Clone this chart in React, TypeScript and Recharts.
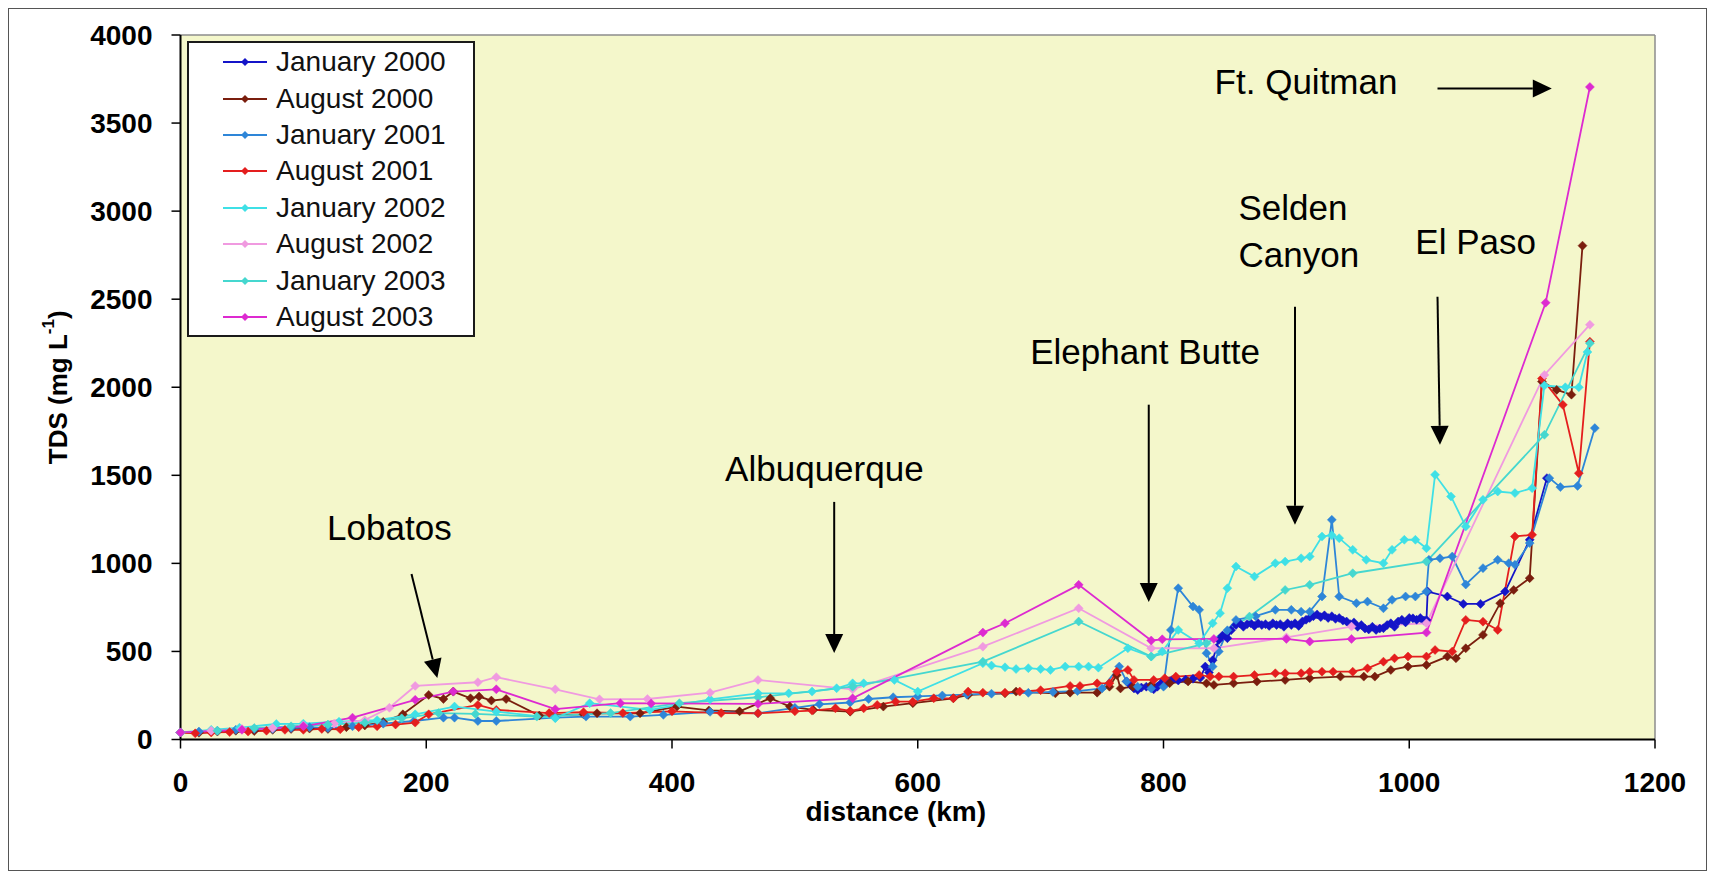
import { LineChart, Line, XAxis, YAxis, CartesianGrid, Legend, ReferenceLine, ReferenceDot } from "recharts"

const FONT = '"Liberation Sans", Arial, Helvetica, sans-serif'

const seriesNames = [
  "January 2000",
  "August 2000",
  "January 2001",
  "August 2001",
  "January 2002",
  "August 2002",
  "January 2003",
  "August 2003",
]
const seriesColors = ["#1414c8", "#7a1e0e", "#2e86d8", "#e41e1e", "#3fe0e6", "#f09ae0", "#45d7cf", "#dd2ad0"]

const xTicks = [0, 200, 400, 600, 800, 1000, 1200]
const yTicks = [0, 500, 1000, 1500, 2000, 2500, 3000, 3500, 4000]

// [distance (km), TDS (mg/L)]
const jan2000 = [
  [770, 330], [773, 310], [776, 290], [779, 281], [782, 295], [786, 300], [789, 300], [792, 285],
  [795, 300], [798, 319], [801, 310], [804, 330], [807, 338], [812, 335], [818, 340], [824, 345],
  [830, 350], [834, 414], [837, 380], [840, 450], [843, 520], [845, 565], [848, 590], [852, 575],
  [855, 620], [859, 650], [862, 660], [865, 640], [868, 655], [871, 660], [874, 645], [877, 660],
  [880, 650], [883, 655], [886, 645], [889, 660], [892, 650], [895, 655], [898, 640], [901, 660],
  [904, 650], [907, 660], [910, 645], [913, 670], [916, 680], [919, 690], [922, 700], [925, 710],
  [928, 695], [931, 705], [934, 690], [937, 700], [940, 685], [943, 690], [946, 675], [949, 670],
  [952, 655], [955, 665], [958, 640], [961, 650], [964, 630], [967, 625], [970, 640], [973, 622],
  [976, 630], [979, 632], [982, 650], [985, 660], [988, 640], [991, 670], [994, 680], [997, 665],
  [1000, 690], [1003, 688], [1006, 680], [1009, 690], [1012, 675], [1014, 679], [1015, 840],
  [1031, 812], [1044, 770], [1058, 770], [1078, 840], [1098, 1134], [1112, 1484],
]

const aug2000 = [
  [0, 40], [15, 38], [30, 45], [45, 50], [60, 48], [75, 55], [90, 60], [105, 62], [120, 60],
  [135, 70], [150, 80], [165, 100], [181, 143], [202, 253], [214, 230], [222, 272], [236, 234],
  [243, 244], [253, 221], [265, 230], [292, 136], [328, 143], [339, 149], [374, 149], [404, 187],
  [430, 165], [455, 160], [480, 234], [496, 187], [515, 168], [545, 158], [572, 187], [596, 206],
  [629, 234], [641, 253], [671, 262], [680, 272], [712, 262], [724, 266], [746, 266], [756, 300],
  [762, 366], [765, 290], [775, 300], [790, 310], [805, 320], [820, 330], [835, 319], [841, 310],
  [857, 319], [876, 329], [899, 338], [919, 348], [944, 357], [963, 357], [972, 357], [985, 395],
  [999, 414], [1014, 423], [1031, 471], [1038, 461], [1046, 518], [1060, 594], [1074, 774],
  [1085, 849], [1098, 916], [1108, 2032], [1120, 1985], [1132, 1958], [1141, 2804],
]

const jan2001 = [
  [0, 40], [15, 45], [30, 50], [45, 55], [60, 60], [75, 60], [90, 65], [105, 70], [120, 65],
  [140, 75], [165, 90], [190, 105], [214, 124], [223, 124], [242, 105], [257, 105], [305, 124],
  [330, 130], [366, 130], [393, 140], [431, 157], [470, 149], [500, 180], [520, 200], [545, 210],
  [560, 230], [580, 240], [600, 245], [620, 250], [640, 255], [660, 260], [690, 265], [710, 270],
  [730, 275], [750, 290], [764, 414], [770, 330], [779, 300], [790, 290], [800, 300], [806, 622],
  [812, 859], [824, 755], [829, 736], [835, 490], [840, 414], [845, 500], [852, 620], [859, 679],
  [875, 700], [891, 736], [904, 736], [912, 726], [919, 726], [929, 812], [937, 1247], [943, 812],
  [957, 774], [966, 783], [979, 745], [986, 793], [997, 812], [1005, 812], [1014, 840], [1016, 1020],
  [1025, 1029], [1035, 1039], [1046, 880], [1060, 973], [1072, 1020], [1081, 1001], [1086, 992],
  [1098, 1115], [1114, 1484], [1123, 1433], [1137, 1440], [1151, 1768],
]

const aug2001 = [
  [0, 40], [12, 35], [25, 40], [40, 42], [55, 45], [70, 50], [85, 55], [100, 55], [115, 60],
  [130, 58], [145, 70], [160, 75], [175, 85], [191, 96], [202, 143], [242, 196], [257, 168],
  [300, 150], [328, 155], [360, 150], [400, 160], [440, 150], [470, 149], [500, 160], [514, 164],
  [533, 177], [545, 162], [556, 177], [567, 196], [582, 215], [596, 215], [613, 234], [629, 234],
  [641, 272], [653, 266], [671, 266], [683, 272], [700, 280], [724, 304], [732, 304], [746, 319],
  [756, 320], [762, 385], [771, 395], [776, 338], [792, 338], [801, 348], [810, 357], [829, 366],
  [838, 357], [845, 357], [857, 357], [874, 366], [891, 376], [899, 376], [912, 376], [919, 385],
  [929, 385], [938, 385], [954, 385], [966, 404], [979, 442], [988, 461], [999, 471], [1014, 471],
  [1021, 508], [1035, 499], [1046, 679], [1060, 669], [1072, 622], [1086, 1153], [1100, 1162],
  [1108, 2050], [1125, 1900], [1138, 1512], [1147, 2259],
]

const jan2002 = [
  [0, 40], [25, 55], [48, 67], [78, 88], [100, 90], [129, 101], [160, 110], [191, 143], [223, 187],
  [257, 158], [305, 121], [333, 206], [382, 168], [431, 228], [470, 262], [495, 262], [514, 272],
  [534, 291], [547, 319], [556, 319], [581, 338], [600, 272], [653, 433], [660, 420], [671, 410],
  [680, 400], [690, 405], [700, 400], [708, 395], [720, 414], [731, 414], [739, 414], [747, 408],
  [771, 518], [790, 471], [799, 499], [812, 622], [829, 546], [840, 660], [846, 717], [852, 859],
  [859, 982], [874, 925], [891, 1001], [899, 1010], [912, 1029], [919, 1039], [929, 1152],
  [937, 1160], [943, 1143], [954, 1077], [965, 1020], [979, 1001], [986, 1077], [996, 1134],
  [1005, 1134], [1014, 1086], [1021, 1503], [1034, 1380], [1046, 1209], [1060, 1361], [1072, 1408],
  [1086, 1399], [1100, 1427], [1110, 2010], [1127, 2000], [1138, 2000], [1145, 2200],
]

const aug2002 = [
  [0, 40], [25, 50], [50, 60], [75, 65], [100, 80], [125, 90], [150, 110], [170, 180], [191, 304],
  [242, 325], [257, 354], [305, 285], [341, 228], [380, 230], [431, 266], [470, 338], [547, 285],
  [653, 527], [731, 745], [790, 518], [841, 518], [900, 580], [953, 641], [1014, 660], [1110, 2070],
  [1147, 2355],
]

const jan2003 = [
  [0, 40], [30, 50], [60, 65], [90, 75], [120, 85], [150, 95], [180, 120], [210, 150], [240, 145],
  [290, 130], [350, 150], [406, 206], [470, 240], [547, 300], [653, 442], [731, 670], [790, 471],
  [835, 546], [870, 698], [899, 849], [919, 878], [954, 944], [1014, 1010], [1110, 1730], [1147, 2250],
]

const aug2003 = [
  [0, 40], [50, 55], [100, 75], [140, 124], [191, 225], [222, 272], [257, 285], [305, 172],
  [358, 206], [383, 205], [470, 202], [547, 234], [653, 607], [671, 660], [731, 878], [790, 562],
  [799, 569], [841, 571], [900, 571], [919, 556], [953, 571], [1014, 607], [1111, 2480], [1147, 3705],
]

const allSeries = [jan2000, aug2000, jan2001, aug2001, jan2002, aug2002, jan2003, aug2003]

// place names and arrows, in data units (km, mg/L)
const placeLabels = [
  { text: "Lobatos", km: 170, tds: 1202, anchor: "middle" },
  { text: "Albuquerque", km: 524, tds: 1537, anchor: "middle" },
  { text: "Elephant Butte", km: 785, tds: 2202, anchor: "middle" },
  { text: "Selden", km: 861, tds: 3020, anchor: "start" },
  { text: "Canyon", km: 861, tds: 2753, anchor: "start" },
  { text: "El Paso", km: 1054, tds: 2827, anchor: "middle" },
  { text: "Ft. Quitman", km: 916, tds: 3736, anchor: "middle" },
]
const placeArrows = [
  { from: [188, 940], to: [209, 349] },
  { from: [532, 1349], to: [532, 491] },
  { from: [788, 1901], to: [788, 781] },
  { from: [907, 2457], to: [907, 1219] },
  { from: [1023, 2514], to: [1025, 1673] },
  { from: [1023, 3696], to: [1116, 3696] },
]

const toRows = (pts: number[][]) => pts.map(([km, tds]) => ({ km, tds }))

const diamond = (color: string, r: number) => (p: any) => {
  if (p.cx == null || p.cy == null) return <g key={p.index} />
  return (
    <polygon
      key={p.index}
      points={`${p.cx},${p.cy - r} ${p.cx + r},${p.cy} ${p.cx},${p.cy + r} ${p.cx - r},${p.cy}`}
      fill={color}
      stroke={color}
      strokeWidth={0.5}
    />
  )
}

const arrowShape = (p: any) => {
  const { x1, y1, x2, y2 } = p
  const dx = x2 - x1
  const dy = y2 - y1
  const len = Math.hypot(dx, dy) || 1
  const ux = dx / len
  const uy = dy / len
  const hl = 19
  const hw = 9
  const bx = x2 - ux * hl
  const by = y2 - uy * hl
  return (
    <g>
      <line x1={x1} y1={y1} x2={bx} y2={by} stroke="#000" strokeWidth={2} />
      <polygon points={`${x2},${y2} ${bx - uy * hw},${by + ux * hw} ${bx + uy * hw},${by - ux * hw}`} fill="#000" />
    </g>
  )
}

const renderLegend = () => (
  <div
    style={{
      boxSizing: "border-box",
      width: 288,
      height: 296,
      border: "2px solid #1a1a1a",
      background: "#fff",
      paddingTop: 1,
      fontFamily: FONT,
    }}
  >
    {seriesNames.map((name, i) => (
      <div key={name} style={{ display: "flex", alignItems: "center", height: 36.4 }}>
        <svg width={44} height={12} style={{ marginLeft: 34, marginRight: 9 }}>
          <line x1={0} y1={6} x2={44} y2={6} stroke={seriesColors[i]} strokeWidth={2} />
          <polygon points="22,2 26,6 22,10 18,6" fill={seriesColors[i]} />
        </svg>
        <span style={{ fontSize: 28, color: "#111", lineHeight: 1 }}>{name}</span>
      </div>
    ))}
  </div>
)

const YTitle = (props: any) => {
  const vb = props.viewBox
  const cx = 49
  const cy = vb.y + vb.height / 2
  return (
    <text
      x={cx}
      y={cy}
      transform={`rotate(-90 ${cx} ${cy})`}
      textAnchor="middle"
      dominantBaseline="central"
      fontFamily={FONT}
      fontWeight="bold"
      fontSize={26}
      fill="#000"
    >
      <tspan>TDS (mg L</tspan>
      <tspan dy={-10} fontSize={17}>-1</tspan>
      <tspan dy={10}>)</tspan>
    </text>
  )
}

const XTitle = (props: any) => {
  const vb = props.viewBox
  return (
    <text
      x={vb.x + vb.width / 2 - 22}
      y={vb.y + 72}
      textAnchor="middle"
      dominantBaseline="central"
      fontFamily={FONT}
      fontWeight="bold"
      fontSize={28}
      fill="#000"
    >
      distance (km)
    </text>
  )
}

export default function App() {
  const tickStyle = { fill: "#000", fontSize: 28, fontWeight: "bold", fontFamily: FONT }

  return (
    <div style={{ width: 1699, height: 863, border: "1px solid #555", boxSizing: "border-box", background: "#fff" }}>
      <LineChart width={1697} height={861} margin={{ top: 26, right: 51, left: 0, bottom: 70.5 }}>
        <CartesianGrid horizontal={false} vertical={false} fill="#f4f7cb" fillOpacity={1} />
        <ReferenceLine y={4000} stroke="#8c8c8c" strokeWidth={1.5} />
        <ReferenceLine x={1200} stroke="#8c8c8c" strokeWidth={1.5} />
        <XAxis
          type="number"
          dataKey="km"
          domain={[0, 1200]}
          ticks={xTicks}
          interval={0}
          height={60}
          tick={tickStyle}
          tickSize={9}
          tickMargin={24}
          axisLine={{ stroke: "#000", strokeWidth: 2 }}
          tickLine={{ stroke: "#000", strokeWidth: 1.5 }}
          label={XTitle}
        />
        <YAxis
          type="number"
          domain={[0, 4000]}
          ticks={yTicks}
          interval={0}
          width={171.5}
          tick={tickStyle}
          tickSize={9}
          tickMargin={19}
          axisLine={{ stroke: "#000", strokeWidth: 2 }}
          tickLine={{ stroke: "#000", strokeWidth: 1.5 }}
          label={YTitle}
        />
        <Legend
          layout="vertical"
          align="center"
          verticalAlign="middle"
          content={renderLegend}
          wrapperStyle={{ left: 178, top: 32, width: 288, height: 296 }}
        />
        {allSeries.map((pts, i) => (
          <Line
            key={seriesNames[i]}
            name={seriesNames[i]}
            data={toRows(pts)}
            dataKey="tds"
            type="linear"
            stroke={seriesColors[i]}
            strokeWidth={1.8}
            dot={diamond(seriesColors[i], 4.5)}
            activeDot={false}
            isAnimationActive={false}
          />
        ))}
        {placeArrows.map((a, i) => (
          <ReferenceLine
            key={`arrow-${i}`}
            segment={[
              { x: a.from[0], y: a.from[1] },
              { x: a.to[0], y: a.to[1] },
            ]}
            shape={arrowShape}
          />
        ))}
        {placeLabels.map((l) => (
          <ReferenceDot
            key={l.text}
            x={l.km}
            y={l.tds}
            r={0}
            shape={(p: any) => (
              <text
                x={p.cx}
                y={p.cy}
                textAnchor={l.anchor as any}
                dominantBaseline="central"
                fontFamily={FONT}
                fontSize={35}
                fill="#000"
              >
                {l.text}
              </text>
            )}
          />
        ))}
      </LineChart>
    </div>
  )
}
